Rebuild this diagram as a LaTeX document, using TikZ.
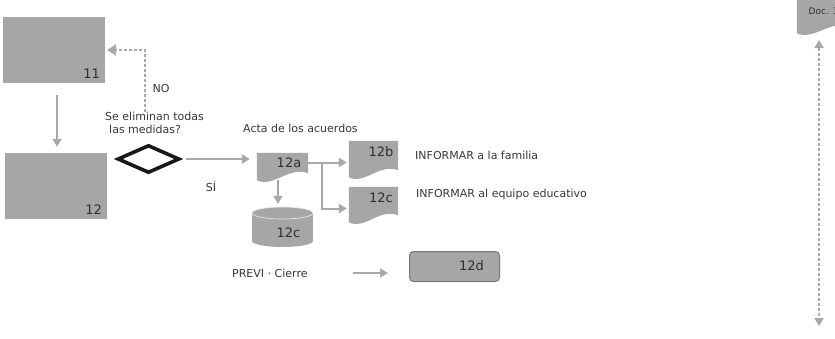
\documentclass[tikz,border=0pt]{standalone}
\usepackage{fontspec}
\setmainfont{DejaVu Sans}
\usetikzlibrary{arrows.meta,shapes.geometric,calc}
\definecolor{boxgray}{HTML}{A6A6A6}
\definecolor{linegray}{HTML}{A8A8A8}
\definecolor{txt}{HTML}{383838}
\definecolor{numtxt}{HTML}{2E2E2E}
\definecolor{rimblue}{HTML}{6E7B96}
\newcommand\docshape[1]{%
  \fill[boxgray] (#1.north west) -- (#1.north east) -- ($(#1.south east)+(0,-7)$)
    .. controls ($(#1.south east)+(-20,-14)$) and ($(#1.south west)+(16,8)$) .. (#1.south west) -- cycle;}
\begin{document}
\begin{tikzpicture}[x=1pt,y=-1pt,
  font=\fontsize{11}{13}\selectfont, text=txt,
  arr/.style={draw=linegray, line width=2pt, -{Triangle[length=8pt,width=9pt]}},
  dasharr/.style={draw=linegray, line width=2.8pt, dash pattern=on 3pt off 2pt, -{Triangle[length=9pt,width=11pt]}},
  box/.style={fill=boxgray, draw=none, minimum width=102pt, minimum height=66pt, inner sep=0pt},
  ghost/.style={draw=none, inner sep=0pt, rectangle},
  num/.style={font=\fontsize{13}{15}\selectfont, text=numtxt, inner sep=0pt},
  lbl/.style={inner sep=0pt, anchor=west}]
\useasboundingbox (0,0) rectangle (835,338);
\fill[white] (0,0) rectangle (835,338);

% process boxes
\node[box] (b11) at (54,50) {};
\node[num, anchor=base east] (l11) at (100,78) {11};
\node[box] (b12) at (56,186) {};
\node[num, anchor=base east] (l12) at (102,214) {12};
\draw[arr, shorten <=12pt, shorten >=6pt] ($(b11.south)+(3,0)$) -- ($(b12.north)+(1,0)$);

% decision
\node[diamond, draw=black!90, line width=3.6pt, fill=white, minimum width=62pt, minimum height=28pt, inner sep=0pt] (dec) at (148.5,159) {};
\node[align=left, anchor=north west, inner sep=0pt] (q) at (105,112) {Se eliminan todas\\\hspace*{4pt}las medidas?};
\coordinate (nostart) at (145,112);
\draw[dasharr, shorten >=2pt] (nostart) |- (b11.east);
\node (nolbl) at (161,88) {NO};
\node (si) at (211,186) {SÍ};

% documents
\node[ghost, minimum width=51pt, minimum height=27pt] (a12a) at (282.5,166.5) {};
\docshape{a12a}
\node[num] (l12a) at (289,163) {12a};
\node[lbl] (acta) at (243,128) {Acta de los acuerdos};
\draw[arr, shorten <=5pt, shorten >=7pt] (dec.east) -- (dec.east -| a12a.west);

\node[ghost, minimum width=49pt, minimum height=36pt] (a12b) at (373.5,159) {};
\docshape{a12b}
\node[num] (l12b) at (381,152) {12b};
\node[ghost, minimum width=49pt, minimum height=35pt] (a12c) at (373.5,204.5) {};
\docshape{a12c}
\node[num] (l12c) at (381,198) {12c};

\draw[arr, shorten >=2pt] ($(a12a.east)+(0,-4)$) -- ($(a12a.east -| a12b.west)+(0,-4)$);
\coordinate (br) at (322,162.5);
\draw[arr, shorten >=2pt] (br) |- ($(a12c.west)+(0,4)$);

\node[lbl] (inf1) at (415,155) {INFORMAR a la familia};
\node[lbl] (inf2) at (416,194) {INFORMAR al equipo educativo};

% database
\node[ghost, minimum width=61pt, minimum height=40pt] (cyl) at (282.5,227) {};
\fill[boxgray] (252,213) rectangle (313,241);
\fill[boxgray] (282.5,241) ellipse [x radius=30.5, y radius=6];
\fill[boxgray] (282.5,213) ellipse [x radius=30.5, y radius=6];
\draw[white!80!boxgray, line width=0.6pt] (282.5,213) ellipse [x radius=30.5, y radius=6];
\node[num] (lcyl) at (288.5,233) {12c};
\draw[arr, shorten >=3pt] ($(a12a.south)+(-4.5,0)$) -- ($(cyl.north)+(-4.5,0)$);

% closing
\node[lbl] (previ) at (232,273) {PREVI · Cierre};
\node[rounded corners=4pt, fill=boxgray, draw=rimblue, line width=1pt, minimum width=90pt, minimum height=30pt, inner sep=0pt] (d12) at (454.5,266.5) {};
\node[num] (l12d) at (471.5,266) {12d};
\draw[draw=linegray, line width=1.6pt, -{Triangle[length=8pt,width=9pt]}, shorten <=45pt, shorten >=21pt] (previ.east) -- (previ.east -| d12.west);

% right side document and double arrow
\node[ghost, minimum width=54pt, minimum height=38pt] (doc3) at (824,14) {};
\docshape{doc3}
\node[lbl, font=\fontsize{9}{11}\selectfont, text=numtxt] (ldoc3) at (808.5,11) {Doc. 3};
\coordinate (dtop) at (819,40);
\coordinate (dbot) at (819,326);
\draw[draw=linegray, line width=1.8pt, dash pattern=on 3pt off 2pt, {Triangle[length=8pt,width=9pt]}-{Triangle[length=8pt,width=9pt]}] (dtop) -- (dbot);
\end{tikzpicture}
\end{document}
